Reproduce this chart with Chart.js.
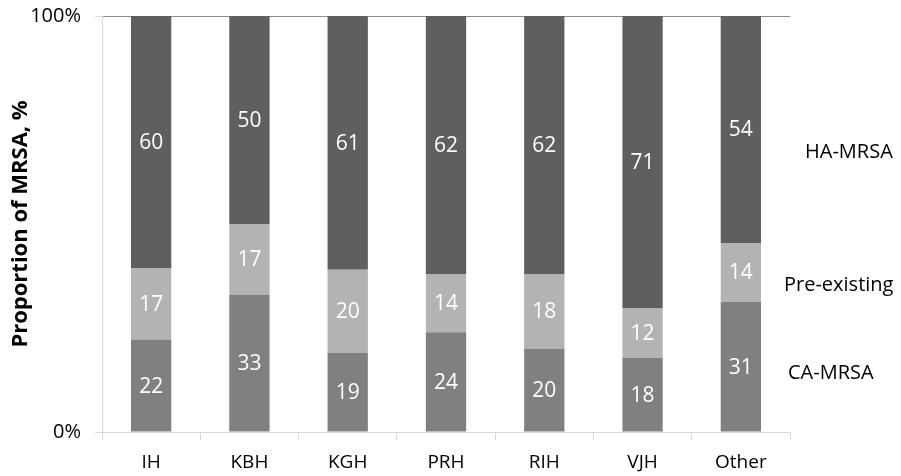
<!DOCTYPE html>
<html>
<head>
<meta charset="utf-8">
<script src="https://cdn.jsdelivr.net/npm/chart.js@4/dist/chart.umd.min.js"></script>
<style>
  html, body { margin: 0; padding: 0; background: #fff; }
  #wrap { width: 901px; height: 476px; }
</style>
</head>
<body>
<div id="wrap"><canvas id="chartMrsa" width="901" height="476"></canvas></div>
<script>
const hospitals = ['IH', 'KBH', 'KGH', 'PRH', 'RIH', 'VJH', 'Other'];
const caMrsa = [22, 33, 19, 24, 20, 18, 31];
const preExisting = [17, 17, 20, 14, 18, 12, 14];
const haMrsa = [60, 50, 61, 62, 62, 71, 54];
const yTicks = [0, 100];

// 100% stacked: scale each column to its own total
const totals = hospitals.map((h, i) => caMrsa[i] + preExisting[i] + haMrsa[i]);
const pct = arr => arr.map((v, i) => v / totals[i] * 100);

const FONT = '"Open Sans", Lato, sans-serif';

// series names written next to the last column, like the original
const sideLabels = {
  id: 'sideLabels',
  afterDatasetsDraw(chart) {
    const { ctx, chartArea, scales } = chart;
    ctx.save();
    ctx.font = '20px ' + FONT;
    ctx.fillStyle = '#000';
    ctx.textBaseline = 'middle';
    ctx.textAlign = 'left';
    ctx.fillText('HA-MRSA', chartArea.right + 15, scales.y.getPixelForValue(67.3));
    ctx.fillText('Pre-existing', chartArea.right - 6, scales.y.getPixelForValue(35.3));
    ctx.fillText('CA-MRSA', chartArea.right - 2, scales.y.getPixelForValue(14));

    // value labels in the middle of each segment
    ctx.font = '21px ' + FONT;
    ctx.fillStyle = '#fff';
    ctx.textAlign = 'center';
    const raw = [caMrsa, preExisting, haMrsa];
    chart.data.datasets.forEach((ds, di) => {
      chart.getDatasetMeta(di).data.forEach((bar, i) => {
        const mid = (bar.y + bar.base) / 2;
        ctx.fillText(String(raw[di][i]), bar.x, mid + 1);
      });
    });
    ctx.restore();
  }
};

new Chart(document.getElementById('chartMrsa').getContext('2d'), {
  type: 'bar',
  data: {
    labels: hospitals,
    datasets: [
      { label: 'CA-MRSA', data: pct(caMrsa), backgroundColor: '#808080' },
      { label: 'Pre-existing', data: pct(preExisting), backgroundColor: '#b3b3b3' },
      { label: 'HA-MRSA', data: pct(haMrsa), backgroundColor: '#5f5f5f' }
    ]
  },
  options: {
    responsive: false,
    animation: false,
    layout: { padding: { top: 16, right: 111, left: 0, bottom: 0 } },
    datasets: { bar: { barPercentage: 0.41, categoryPercentage: 1, borderWidth: 0 } },
    plugins: {
      legend: { display: false },
      tooltip: { enabled: false }
    },
    scales: {
      x: {
        stacked: true,
        grid: { offset: true, drawOnChartArea: false, tickLength: 8, color: '#d9d9d9' },
        border: { color: '#d9d9d9' },
        ticks: { color: '#000', font: { family: FONT, size: 19 }, padding: 11 },
        afterFit(scale) { scale.height = 44; }
      },
      y: {
        stacked: true,
        min: 0,
        max: 100,
        afterBuildTicks(scale) { scale.ticks = yTicks.map(v => ({ value: v })); },
        grid: {
          color: c => (c.tick && c.tick.value === 100 ? '#8c8c8c' : '#d9d9d9'),
          tickColor: '#d9d9d9',
          tickLength: 7
        },
        border: { color: '#d9d9d9' },
        ticks: {
          color: '#000',
          font: { family: FONT, size: 20 },
          padding: 14,
          callback: v => v + '%'
        },
        title: {
          display: true,
          text: 'Proportion of MRSA, %',
          color: '#000',
          font: { family: FONT, size: 22, weight: 'bold' },
          padding: { top: 8, bottom: 0 }
        },
        afterFit(scale) {
          scale.width = 102;
          scale.paddingTop = 0;
          scale.paddingBottom = 0;
        }
      }
    }
  },
  plugins: [sideLabels]
});
</script>
</body>
</html>
